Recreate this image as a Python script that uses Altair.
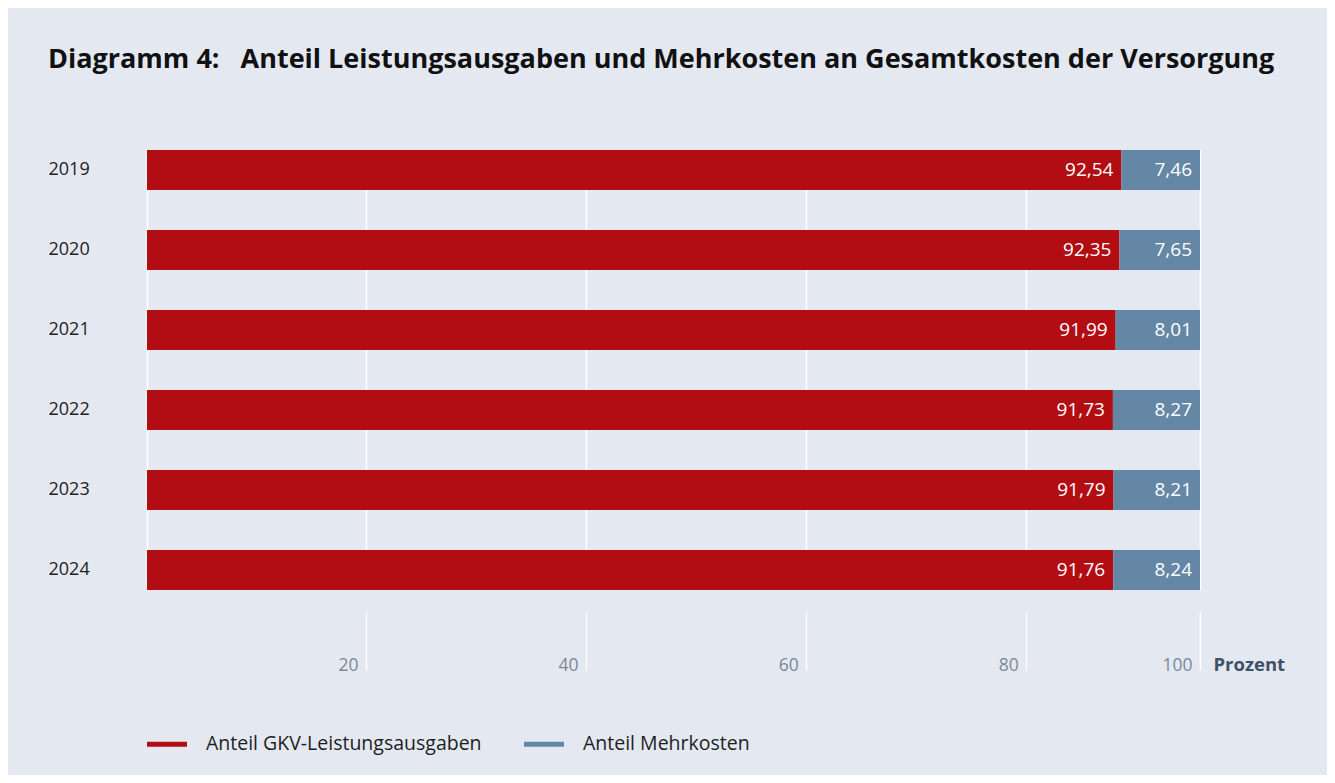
import altair as alt
import pandas as pd

years = ["2019", "2020", "2021", "2022", "2023", "2024"]
leistung = [92.54, 92.35, 91.99, 91.73, 91.79, 91.76]
mehrkosten = [7.46, 7.65, 8.01, 8.27, 8.21, 8.24]
series = ["Anteil GKV-Leistungsausgaben", "Anteil Mehrkosten"]
colors = ["#b20d12", "#6587a6"]
# gridline positions (in percent of the bar length)
grid_values = [0, 20.8, 41.7, 62.6, 83.5, 100]
tick_labels = ["", "20", "40", "60", "80", "100"]

rows = []
for i, y in enumerate(years):
    for k, (name, vals) in enumerate(zip(series, [leistung, mehrkosten])):
        v = vals[i]
        rows.append({"year": y, "series": name, "value": v, "ord": k,
                     "label": f"{v:.2f}".replace(".", ",")})
df = pd.DataFrame(rows)

FONT = "Open Sans"
labels_js = "[" + ",".join(f"'{t}'" for t in tick_labels) + "]"
values_js = "[" + ",".join(str(v) for v in grid_values) + "]"
label_expr = f"{labels_js}[indexof({values_js}, datum.value)]"

x_enc = alt.X(
    "value:Q", stack="zero",
    scale=alt.Scale(domain=[0, 100], nice=False, zero=True),
    axis=alt.Axis(
        values=grid_values, grid=True, gridColor="white", gridWidth=1.5,
        domain=False, tickSize=58, offset=22, tickWidth=1.5,
        tickColor={"condition": {"test": "datum.value === 0", "value": "transparent"}, "value": "white"},
        labelExpr=label_expr,
        labelAlign="right", labelBaseline="alphabetic", labelPadding=0, labelOffset=-8,
        labelFont=FONT, labelFontSize=17.5, labelColor="#7a8897",
        title="Prozent", titleFont=FONT, titleFontSize=18.5, titleFontWeight="bold",
        titleColor="#3f5166", titleX=1066, titleY=58, titleAlign="left",
        titleBaseline="alphabetic",
    ),
)
y_enc = alt.Y(
    "year:N", sort=years,
    scale=alt.Scale(paddingInner=0.5, paddingOuter=0, align=0),
    axis=alt.Axis(
        title=None, domain=False, ticks=False, grid=False,
        labelAlign="left", labelPadding=99, labelFont=FONT, labelFontSize=18,
        labelColor="#1e1e1e", labelBaseline="middle",
    ),
)

bars = alt.Chart(df).mark_bar().encode(
    x=x_enc,
    y=y_enc,
    color=alt.Color(
        "series:N",
        scale=alt.Scale(domain=series, range=colors),
        legend=alt.Legend(
            title=None, orient="none", direction="horizontal",
            legendX=0, legendY=574, padding=0,
            symbolType="M-1,-0.125L1,-0.125L1,0.125L-1,0.125Z",
            symbolSize=1600, symbolStrokeWidth=0, symbolOpacity=1,
            labelOffset=19, columnPadding=42, labelLimit=500,
            labelFont=FONT, labelFontSize=19.5, labelColor="#1e1e1e",
        ),
    ),
    order=alt.Order("ord:Q"),
)

texts = alt.Chart(df).mark_text(
    align="right", baseline="middle", dx=-8, color="white",
    font=FONT, fontSize=19,
).encode(
    x=alt.X("value:Q", stack="zero"),
    y=alt.Y("year:N", sort=years),
    detail="series:N",
    order=alt.Order("ord:Q"),
    text="label:N",
)

chart = alt.layer(bars, texts).properties(
    width=1053,
    height=440,
    autosize=alt.AutoSizeParams(type="none"),
    padding={"left": 139, "top": 142, "right": 127, "bottom": 185},
    background="#e4e8f1",
    title=alt.TitleParams(
        "Diagramm 4:\u00a0\u00a0\u00a0Anteil Leistungsausgaben und Mehrkosten an Gesamtkosten der Versorgung",
        anchor="start", frame="group", dx=-99, offset=55, baseline="alphabetic",
        font=FONT, fontSize=27, fontWeight="bold", color="#111111",
    ),
).configure_view(stroke=None)

chart.save("out.html", embed_options={"renderer": "svg", "actions": False})
